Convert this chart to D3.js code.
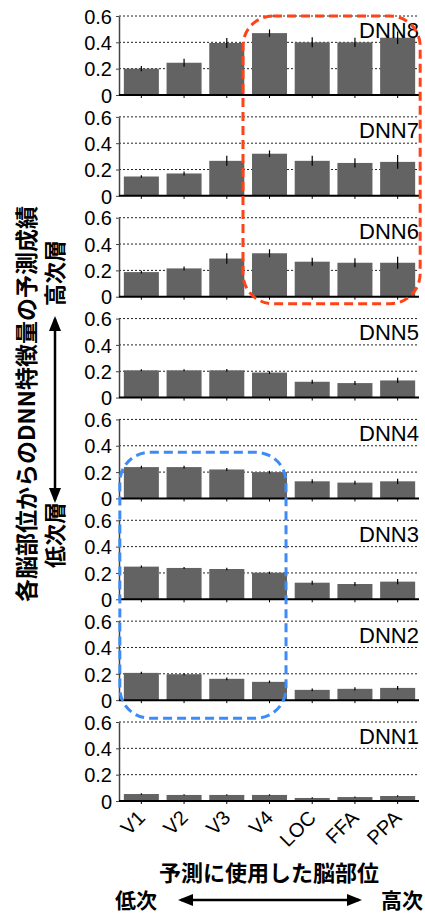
<!DOCTYPE html>
<html>
<meta charset="utf-8">
<style type="text/css">
  body { margin: 0; background: #fff; }
  .tick text { font-family: "Liberation Sans", Arial, sans-serif; }
  .jp { font-family: "Noto Sans CJK JP", sans-serif; font-weight: bold; }
</style>
<body>
<script src="https://d3js.org/d3.v7.min.js"></script>
<div id="chart"></div>
<script>
  const width = 425,
    height = 914;

  // brain regions used for prediction (x axis)
  const regions = ["V1", "V2", "V3", "V4", "LOC", "FFA", "PPA"];
  const layers = ["DNN8", "DNN7", "DNN6", "DNN5", "DNN4", "DNN3", "DNN2", "DNN1"];
  const yTicks = [0, 0.2, 0.4, 0.6];

  // mean prediction score per region, and error bar half length
  const dnn8 = [0.200, 0.245, 0.395, 0.470, 0.400, 0.400, 0.435];
  const dnn8Err = [0.020, 0.030, 0.038, 0.028, 0.038, 0.035, 0.048];
  const dnn7 = [0.147, 0.170, 0.266, 0.320, 0.266, 0.250, 0.258];
  const dnn7Err = [0.010, 0.015, 0.038, 0.025, 0.038, 0.035, 0.053];
  const dnn6 = [0.187, 0.215, 0.290, 0.330, 0.266, 0.258, 0.258];
  const dnn6Err = [0.010, 0.015, 0.040, 0.030, 0.030, 0.035, 0.045];
  const dnn5 = [0.207, 0.207, 0.207, 0.190, 0.120, 0.110, 0.130];
  const dnn5Err = [0.008, 0.008, 0.010, 0.010, 0.015, 0.015, 0.020];
  const dnn4 = [0.238, 0.238, 0.220, 0.200, 0.130, 0.120, 0.130];
  const dnn4Err = [0.010, 0.010, 0.012, 0.010, 0.015, 0.015, 0.020];
  const dnn3 = [0.248, 0.238, 0.230, 0.202, 0.126, 0.116, 0.134];
  const dnn3Err = [0.008, 0.008, 0.010, 0.008, 0.015, 0.015, 0.020];
  const dnn2 = [0.207, 0.197, 0.162, 0.139, 0.078, 0.086, 0.093];
  const dnn2Err = [0.008, 0.008, 0.010, 0.010, 0.010, 0.012, 0.015];
  const dnn1 = [0.053, 0.046, 0.046, 0.046, 0.023, 0.030, 0.038];
  const dnn1Err = [0.005, 0.005, 0.005, 0.005, 0.005, 0.005, 0.006];

  const values = [dnn8, dnn7, dnn6, dnn5, dnn4, dnn3, dnn2, dnn1];
  const errors = [dnn8Err, dnn7Err, dnn6Err, dnn5Err, dnn4Err, dnn3Err, dnn2Err, dnn1Err];

  const svg = d3.select("#chart").append("svg")
    .attr("width", width)
    .attr("height", height);

  const x = d3.scaleBand()
    .domain(regions)
    .range([120, 419])
    .paddingInner(0.18)
    .paddingOuter(0.09);

  // baseline (value 0) of each panel
  const panelBase = d3.scaleLinear().domain([0, layers.length - 1]).range([95, 801]);
  const panelH = 79;

  const panels = svg.selectAll("g.panel")
    .data(layers)
    .enter()
    .append("g")
    .attr("class", "panel")
    .attr("transform", (d, i) => "translate(0," + (panelBase(i) - panelH) + ")");

  panels.each(function (name, i) {
    const g = d3.select(this);
    const y = d3.scaleLinear().domain([0, 0.6]).range([panelH, 0]);

    // dotted grid lines
    g.selectAll("line.grid")
      .data(yTicks.slice(1))
      .enter()
      .append("line")
      .attr("x1", 119)
      .attr("x2", 419)
      .attr("y1", d => y(d))
      .attr("y2", d => y(d))
      .style("stroke", "#222")
      .style("stroke-width", 1)
      .style("stroke-dasharray", "2,2");

    // y axis
    const ya = g.append("g")
      .attr("transform", "translate(119,0)")
      .call(d3.axisLeft(y).tickValues(yTicks).tickFormat(d => d === 0 ? "0" : d3.format(".1f")(d))
        .tickSize(3).tickSizeOuter(0).tickPadding(4));
    ya.select(".domain").style("stroke", "#444").style("stroke-width", 1.5);
    ya.selectAll(".tick line").style("stroke", "#444");
    ya.selectAll(".tick text").style("font-size", "20px").attr("dy", "0.36em");

    const rows = regions.map((r, j) => ({ region: r, v: values[i][j], e: errors[i][j] }));

    g.selectAll("rect.bar")
      .data(rows)
      .enter()
      .append("rect")
      .attr("x", d => x(d.region))
      .attr("width", x.bandwidth())
      .attr("y", d => y(d.v))
      .attr("height", d => y(0) - y(d.v))
      .style("fill", "#636363");

    g.selectAll("line.err")
      .data(rows)
      .enter()
      .append("line")
      .attr("x1", d => x(d.region) + x.bandwidth() / 2)
      .attr("x2", d => x(d.region) + x.bandwidth() / 2)
      .attr("y1", d => y(d.v - d.e))
      .attr("y2", d => y(d.v + d.e))
      .style("stroke", "#000")
      .style("stroke-width", 1.2);

    // x axis / baseline
    const xa = g.append("g")
      .attr("transform", "translate(0," + panelH + ")")
      .call(d3.axisBottom(x).tickSize(3).tickSizeOuter(0));
    xa.select(".domain").attr("d", "M119,0H419").style("stroke", "#000").style("stroke-width", 2);
    xa.selectAll(".tick line").style("stroke", "#000");
    if (i === layers.length - 1) {
      xa.selectAll(".tick text")
        .style("font-size", "20px")
        .attr("text-anchor", "end")
        .attr("y", 0)
        .attr("dy", "0.35em")
        .attr("transform", "translate(0,13) rotate(-45)");
    } else {
      xa.selectAll(".tick text").remove();
    }

    g.append("text")
      .attr("x", 419)
      .attr("y", y(0.6) + 21.5)
      .attr("text-anchor", "end")
      .style("font-family", "'Liberation Sans', Arial, sans-serif")
      .style("font-size", "22px")
      .text(name);
  });

  // highlight boxes, placed from the scales
  const bw = x.bandwidth();
  const yIn = (p, v) => panelBase(p) - v / 0.6 * panelH;
  const boxes = [
    { x0: x("V4") - 9, x1: x("PPA") + bw + 5, y0: yIn(0, 0.6), y1: panelBase(2) + 7, color: "#ff4316" },
    { x0: x("V1") - 4, x1: x("V4") + bw - 1, y0: yIn(4, 0.35), y1: panelBase(6) + 18, color: "#3d8bf6" }
  ];
  svg.selectAll("rect.box")
    .data(boxes)
    .enter()
    .append("rect")
    .attr("x", d => d.x0)
    .attr("y", d => d.y0)
    .attr("width", d => d.x1 - d.x0)
    .attr("height", d => d.y1 - d.y0)
    .attr("rx", 30)
    .style("fill", "none")
    .style("stroke", d => d.color)
    .style("stroke-width", 3)
    .style("stroke-dasharray", "9,5");

  // arrow heads
  const defs = svg.append("defs");
  defs.append("marker")
    .attr("id", "head")
    .attr("viewBox", "0 0 10 10")
    .attr("refX", 8).attr("refY", 5)
    .attr("markerWidth", 6).attr("markerHeight", 6)
    .attr("orient", "auto-start-reverse")
    .append("path")
    .attr("d", "M0,1L10,5L0,9Z")
    .style("fill", "#000");

  // y axis title
  svg.append("text")
    .attr("class", "jp")
    .attr("transform", "translate(35,404) rotate(-90)")
    .attr("text-anchor", "middle")
    .style("font-size", "23px")
    .text("各脳部位からのDNN特徴量の予測成績");
  svg.append("text")
    .attr("class", "jp")
    .attr("transform", "translate(63,273) rotate(-90)")
    .attr("text-anchor", "middle")
    .style("font-size", "22px")
    .text("高次層");
  svg.append("text")
    .attr("class", "jp")
    .attr("transform", "translate(63,535) rotate(-90)")
    .attr("text-anchor", "middle")
    .style("font-size", "22px")
    .text("低次層");
  svg.append("line")
    .attr("x1", 55).attr("x2", 55)
    .attr("y1", 319).attr("y2", 500)
    .style("stroke", "#000").style("stroke-width", 2.5)
    .attr("marker-start", "url(#head)")
    .attr("marker-end", "url(#head)");

  // x axis title
  svg.append("text")
    .attr("class", "jp")
    .attr("x", 269).attr("y", 881)
    .attr("text-anchor", "middle")
    .style("font-size", "22px")
    .text("予測に使用した脳部位");
  svg.append("text")
    .attr("class", "jp")
    .attr("x", 136).attr("y", 908)
    .attr("text-anchor", "middle")
    .style("font-size", "21px")
    .text("低次");
  svg.append("text")
    .attr("class", "jp")
    .attr("x", 402).attr("y", 908)
    .attr("text-anchor", "middle")
    .style("font-size", "21px")
    .text("高次");
  svg.append("line")
    .attr("x1", 181).attr("x2", 359)
    .attr("y1", 900).attr("y2", 900)
    .style("stroke", "#000").style("stroke-width", 2.5)
    .attr("marker-start", "url(#head)")
    .attr("marker-end", "url(#head)");
</script>
</body>
</html>
